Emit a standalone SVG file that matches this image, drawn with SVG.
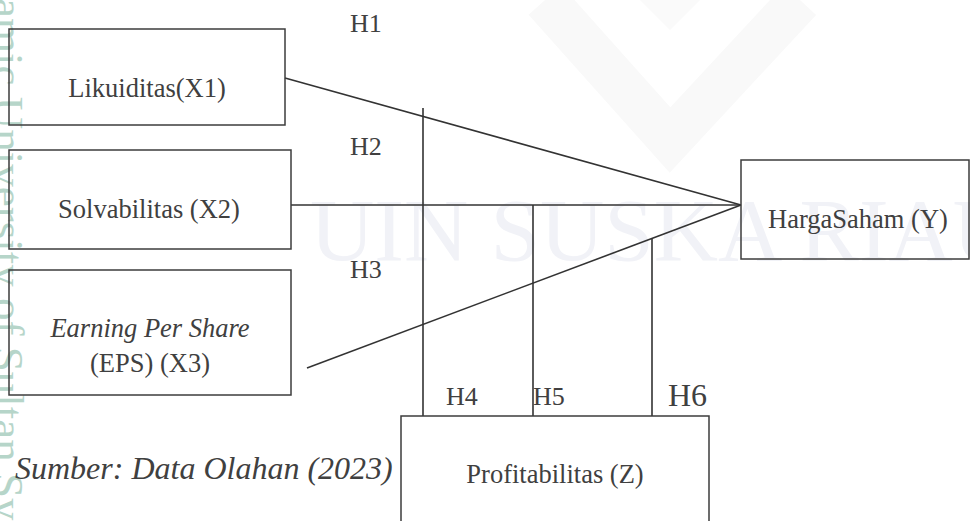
<svg xmlns="http://www.w3.org/2000/svg" width="970" height="521" viewBox="0 0 970 521">
<style>
.box{fill:none;stroke:#3c3c3c;stroke-width:1.5}
.ln{stroke:#333;stroke-width:1.6;fill:none}
.t{font-family:"Liberation Serif","Times New Roman",serif;fill:#404040;font-size:26.5px}
.i{font-style:italic}
.h{font-family:"Liberation Serif","Times New Roman",serif;fill:#404040;font-size:26px}
.wm{font-family:"Liberation Serif","Times New Roman",serif;fill:#f1f2f7;font-size:89px}
.wl{font-family:"Liberation Serif","Times New Roman",serif;fill:#b6d5c9;font-size:45px}
</style>
<rect width="970" height="521" fill="#fff"/>
<g id="watermark">
<path d="M545 0 L670 140 L800 0" fill="none" stroke="#f9f9f9" stroke-width="44"/>
<path d="M640 0 L700 0 L670 30 Z" fill="#fafafa"/>
<text class="wm" x="310" y="260">UIN SUSKA RIAU</text>
<text class="wl" transform="translate(-7,0) rotate(90)" x="-2" y="0">amic University of Sultan Syarif</text>
</g>
<g id="connectors">
<line class="ln" x1="285" y1="78" x2="741" y2="205"/>
<line class="ln" x1="291" y1="205" x2="741" y2="205"/>
<line class="ln" x1="307" y1="368" x2="741" y2="205"/>
<line class="ln" x1="423" y1="108" x2="423" y2="416"/>
<line class="ln" x1="533" y1="205" x2="533" y2="416"/>
<line class="ln" x1="652" y1="238" x2="652" y2="416"/>
</g>
<g id="x1">
<rect class="box" x="9" y="29" width="276" height="96"/>
<text class="t" x="147" y="97" text-anchor="middle">Likuiditas(X1)</text>
</g>
<g id="x2">
<rect class="box" x="9" y="150" width="282" height="99"/>
<text class="t" x="149" y="218" text-anchor="middle">Solvabilitas (X2)</text>
</g>
<g id="x3">
<rect class="box" x="9" y="270" width="282" height="125"/>
<text class="t i" x="150" y="337" text-anchor="middle">Earning Per Share</text>
<text class="t" x="150" y="372" text-anchor="middle">(EPS) (X3)</text>
</g>
<g id="y">
<rect class="box" x="741" y="160" width="228" height="99"/>
<text class="t" x="858" y="228" text-anchor="middle">HargaSaham (Y)</text>
</g>
<g id="z">
<path class="box" d="M401 521 L401 416 L709 416 L709 521"/>
<text class="t" x="555" y="483" text-anchor="middle">Profitabilitas (Z)</text>
</g>
<g id="labels">
<text class="h" x="350" y="32">H1</text>
<text class="h" x="350" y="155">H2</text>
<text class="h" x="350" y="278">H3</text>
<text class="h" x="446" y="405">H4</text>
<text class="h" x="533" y="405">H5</text>
<text class="h" x="668" y="406" style="font-size:32px">H6</text>
<text class="t i" x="15" y="479" style="font-size:32px">Sumber: Data Olahan (2023)</text>
</g>
</svg>
